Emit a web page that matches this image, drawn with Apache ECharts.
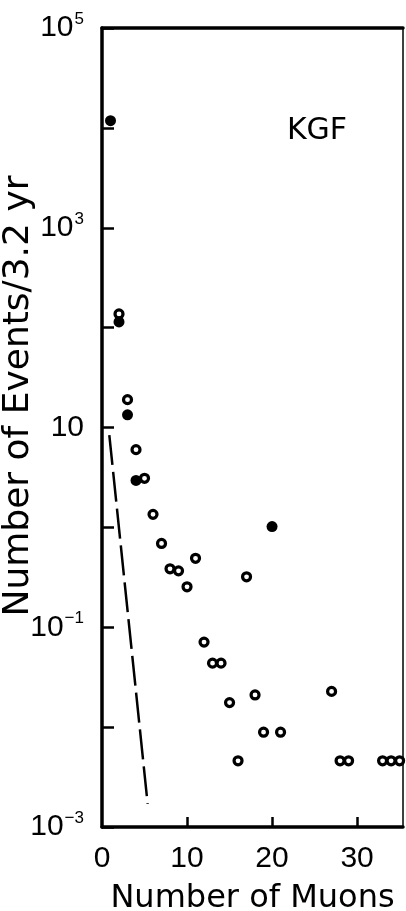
<!DOCTYPE html>
<html>
<head>
<meta charset="utf-8">
<script src="https://cdn.jsdelivr.net/npm/echarts@6/dist/echarts.min.js"></script>
<style>
html,body{margin:0;padding:0;background:#fff;}
#chart{width:406px;height:911px;}
</style>
</head>
<body>
<div id="chart"></div>
<script>
// ---- data ----
const filledX = [1, 2, 3, 4, 20];
const filledY = [11800, 114, 13.4, 2.95, 1.02];

const openX = [2, 3, 4, 5, 6, 7, 8, 9, 10, 11, 12, 13, 14, 15, 16, 17, 18, 19, 21, 27, 28, 29, 33, 34, 35];
const openY = [137, 19, 6.0, 3.1, 1.35, 0.69, 0.385, 0.367, 0.254, 0.49, 0.071, 0.0437, 0.0437, 0.0176, 0.0046, 0.32, 0.021, 0.0089, 0.0089, 0.0228, 0.0046, 0.0046, 0.0046, 0.0046, 0.0046];

const dashX = [0.86, 5.37];
const dashY = [8.4, 0.0017];

const xTickValues = [10, 20, 30];
const xLabelValues = [0, 10, 20, 30];
const yTickValues = [1e-3, 1e-2, 1e-1, 1, 10, 100, 1e3, 1e4, 1e5];
const yLabelValues = [1e-3, 1e-1, 10, 1e3, 1e5];

const xName = 'Number of Muons';
const yName = 'Number of Events/3.2 yr';
const panelLabel = 'KGF';

// ---- chart ----
const zip = (a, b) => a.map((v, i) => [v, b[i]]);
const chart = echarts.init(document.getElementById('chart'), null, {renderer: 'canvas'});

function yFmt(v) {
  const e = Math.round(Math.log10(v));
  if (e === 1) return '{b|10}';
  const sup = e < 0 ? '\u2212' + Math.abs(e) : String(e);
  return '{b|10}{s|' + sup + '}';
}

const option = {
  animation: false,
  backgroundColor: '#fff',
  grid: {left: 102, top: 28, right: 3, bottom: 84, containLabel: false, outerBoundsMode: 'none'},
  xAxis: [{
    type: 'value', min: 0, max: 35.4, position: 'bottom',
    axisLine: {onZero: false, lineStyle: {color: '#000', width: 3.5}},
    axisTick: {inside: true, length: 10, lineStyle: {color: '#000', width: 2.5}, customValues: xTickValues},
    axisLabel: {customValues: xLabelValues, margin: 17, color: '#000', fontSize: 30, fontFamily: 'Liberation Sans'},
    splitLine: {show: false},
    name: xName, nameLocation: 'middle', nameGap: 55,
    nameTextStyle: {color: '#000', fontSize: 32, fontFamily: 'DejaVu Sans', lineHeight: 34}
  }, {
    type: 'value', min: 0, max: 35.4, position: 'top',
    axisLine: {onZero: false, lineStyle: {color: '#000', width: 3.5}},
    axisTick: {show: false}, axisLabel: {show: false}, splitLine: {show: false}
  }],
  yAxis: [{
    type: 'log', logBase: 10, min: 1e-3, max: 1e5, position: 'left',
    axisLine: {onZero: false, lineStyle: {color: '#000', width: 3.5}},
    axisTick: {inside: true, length: 12, lineStyle: {color: '#000', width: 2.5}, customValues: yTickValues},
    axisLabel: {
      customValues: yLabelValues, margin: 18, formatter: yFmt,
      rich: {
        b: {fontSize: 30, fontFamily: 'Liberation Sans', color: '#000', lineHeight: 34},
        s: {fontSize: 17, fontFamily: 'Liberation Sans', color: '#000', verticalAlign: 'top', lineHeight: 17, padding: [0, 0, 0, 1]}
      }
    },
    splitLine: {show: false}
  }, {
    type: 'log', logBase: 10, min: 1e-3, max: 1e5, position: 'right',
    axisLine: {onZero: false, lineStyle: {color: '#000', width: 1.5}},
    axisTick: {show: false}, axisLabel: {show: false}, splitLine: {show: false}
  }],
  graphic: [{
    type: 'text', x: 19, y: 396, rotation: Math.PI / 2,
    style: {text: yName, fill: '#000', fontSize: 36, fontFamily: 'DejaVu Sans',
      align: 'center', verticalAlign: 'middle', textAlign: 'center', textVerticalAlign: 'middle'}
  }, {
    type: 'text', x: 317, y: 131,
    style: {text: panelLabel, fill: '#000', fontSize: 30, fontFamily: 'DejaVu Sans',
      align: 'center', verticalAlign: 'middle', textAlign: 'center', textVerticalAlign: 'middle'}
  }],
  series: [{
    type: 'line', data: zip(dashX, dashY), symbol: 'none', silent: true,
    lineStyle: {color: '#000', width: 2.5, type: [30, 7]}, z: 2
  }, {
    type: 'scatter', data: zip(openX, openY), symbol: 'circle', symbolSize: 8,
    itemStyle: {color: '#fff', borderColor: '#000', borderWidth: 3.2, opacity: 1}, z: 3
  }, {
    type: 'scatter', data: zip(filledX, filledY), symbol: 'circle', symbolSize: 11,
    itemStyle: {color: '#000', opacity: 1}, z: 4
  }]
};
chart.setOption(option);
</script>
</body>
</html>
